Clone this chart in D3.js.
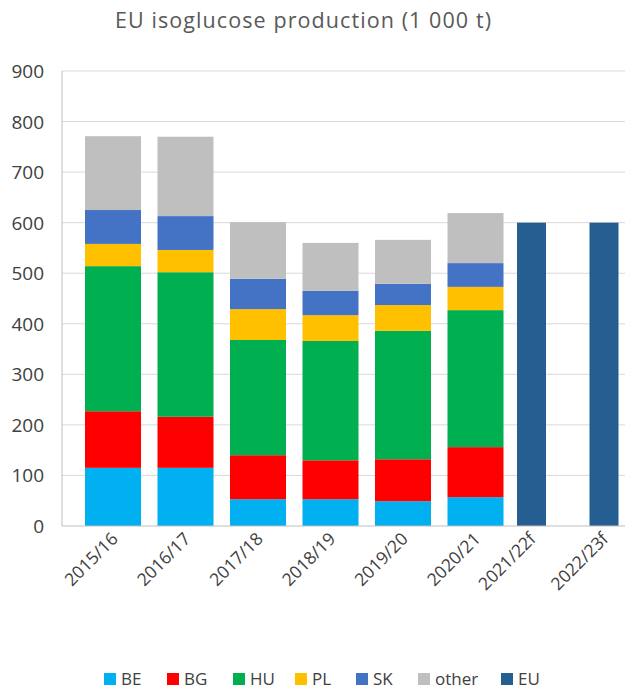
<!DOCTYPE html><html><head><meta charset="utf-8"><script src="https://cdn.jsdelivr.net/npm/d3@7"></script>
<style>body{margin:0;background:#fff}text{font-family:"Open Sans",sans-serif}</style></head><body><svg width="638" height="691"></svg><script>
const categories=["2015/16","2016/17","2017/18","2018/19","2019/20","2020/21","2021/22f","2022/23f"];
const seriesNames=["BE","BG","HU","PL","SK","other"];
const BE=[115,115,53,53,49,57,null,null];
const BG=[112,101,87,77,83,99,null,null];
const HU=[287,286,228,236,254,271,null,null];
const PL=[44,44,61,51,51,46,null,null];
const SK=[67,67,60,48,42,47,null,null];
const other=[146,157,112,95,87,99,null,null];
const EU=[null,null,null,null,null,null,600,600];
const yTicks=[0,100,200,300,400,500,600,700,800,900];
const colors={BE:"#00b0f0",BG:"#ff0000",HU:"#00b050",PL:"#ffc000",SK:"#4472c4",other:"#bfbfbf",EU:"#255e91"};
const vals={BE,BG,HU,PL,SK,other};
const svg=d3.select("svg");
const x=d3.scaleBand().domain(categories).range([76.75,656.75]);
const y=d3.scaleLinear().domain([0,900]).range([526,71]);
svg.append("text").attr("x",303).attr("y",28).attr("text-anchor","middle").attr("font-size",21.5).attr("textLength",376).attr("fill","#595959").text("EU isoglucose production (1 000 t)");
svg.selectAll("line.g").data(yTicks.slice(1)).join("line").attr("x1",62).attr("x2",625).attr("y1",d=>y(d)).attr("y2",d=>y(d)).attr("stroke","#d9d9d9");
svg.selectAll("text.y").data(yTicks).join("text").attr("x",44).attr("y",d=>y(d)+7).attr("text-anchor","end").attr("font-size",19).attr("fill","#404040").text(d=>d);
const rows=categories.map((c,i)=>{const o={cat:c};seriesNames.forEach(s=>o[s]=vals[s][i]||0);return o;});
const stack=d3.stack().keys(seriesNames)(rows);
const bw=56;
stack.forEach(layer=>{svg.selectAll(null).data(layer.filter(d=>d[1]>d[0])).join("rect")
 .attr("x",d=>x(d.data.cat)+x.bandwidth()/2-bw/2).attr("width",bw)
 .attr("y",d=>y(d[1])).attr("height",d=>y(d[0])-y(d[1])).attr("fill",colors[layer.key]);});
const ew=29;
svg.selectAll(null).data(categories.map((c,i)=>({c,v:EU[i]})).filter(d=>d.v)).join("rect")
 .attr("x",d=>x(d.c)+x.bandwidth()/2-31).attr("width",ew).attr("y",d=>y(d.v)).attr("height",d=>y(0)-y(d.v)).attr("fill",colors.EU);
svg.append("line").attr("x1",62).attr("x2",625).attr("y1",526).attr("y2",526).attr("stroke","#bfbfbf");
svg.append("line").attr("x1",62).attr("x2",62).attr("y1",71).attr("y2",526).attr("stroke","#bfbfbf");
categories.forEach((c,i)=>{const cx=x(c)+x.bandwidth()/2-(EU[i]?17:0);
 svg.append("text").attr("transform",`translate(${cx+6},${540}) rotate(-45)`).attr("text-anchor","end").attr("font-size",17.5).attr("fill","#404040").text(c);});
const leg=[...seriesNames,"EU"];const lx=[104,167,233,295,356,418,501];
leg.forEach((s,i)=>{svg.append("rect").attr("x",lx[i]).attr("y",673).attr("width",12).attr("height",12).attr("fill",colors[s]);
 svg.append("text").attr("x",lx[i]+17).attr("y",685).attr("font-size",17).attr("fill","#404040").text(s);});
</script></body></html>
